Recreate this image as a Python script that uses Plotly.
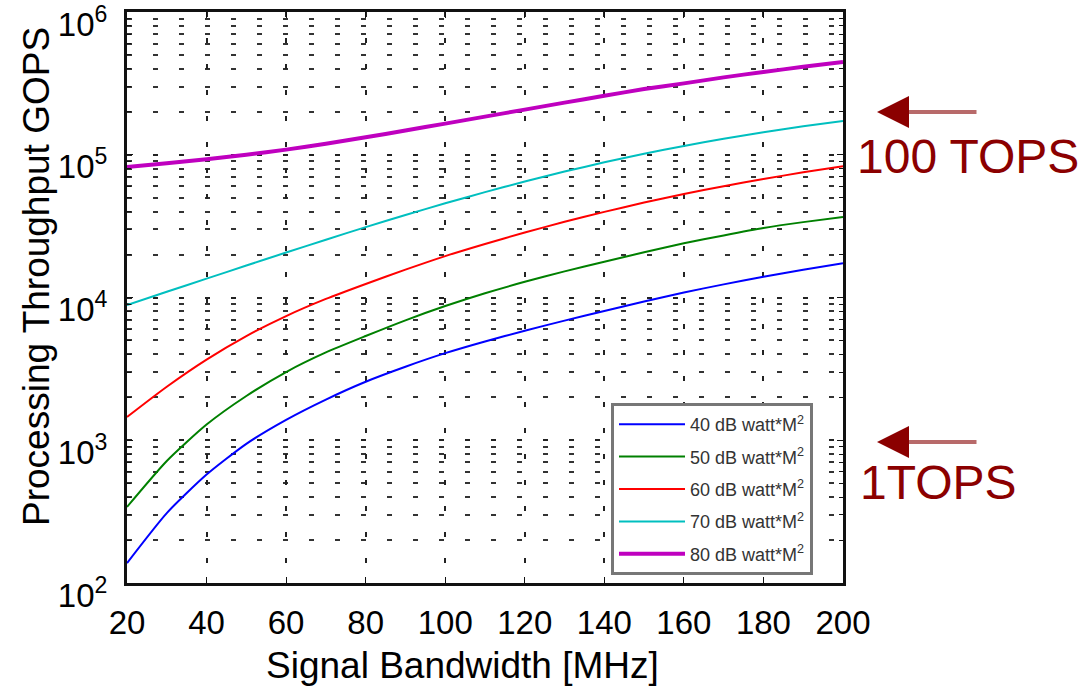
import plotly.graph_objects as go

bandwidth = [20, 30, 40, 50, 60, 70, 80, 90, 100, 110, 120, 130, 140, 150, 160, 170, 180, 190, 200]
gops_40db = [138, 309, 575, 944, 1390, 1928, 2570, 3273, 4074, 4920, 5848, 6887, 8035, 9376,
             10839, 12359, 13964, 15631, 17378]
gops_50db = [341, 716, 1288, 2042, 3006, 4121, 5370, 6918, 8710, 10715, 12882, 15241, 17783, 20749,
             23988, 27227, 30690, 33729, 36644]
gops_60db = [1455, 2371, 3673, 5370, 7413, 9772, 12445, 15668, 19498, 23714, 28510, 33884, 39811, 46238,
             53088, 60256, 67608, 75336, 83176]
gops_70db = [8851, 10965, 13552, 16749, 20654, 25410, 31117, 37844, 45709, 54702, 64863, 76208, 88505,
             101625, 115345, 129420, 143880, 158125, 172187]
gops_80db = [82035, 87096, 92897, 100000, 108643, 119399, 132434, 147911, 165196, 184927, 207014, 231739,
             258821, 288403, 316228, 348337, 380189, 413048, 446684]

series_names = ["40 dB watt*M<sup>2</sup>", "50 dB watt*M<sup>2</sup>", "60 dB watt*M<sup>2</sup>",
                "70 dB watt*M<sup>2</sup>", "80 dB watt*M<sup>2</sup>"]
series_values = [gops_40db, gops_50db, gops_60db, gops_70db, gops_80db]
series_colors = ["#0000ff", "#008000", "#ff0000", "#00bfbf", "#bf00bf"]
series_widths = [2, 2, 2, 2, 4]

y_tick_vals = [1e2, 1e3, 1e4, 1e5, 1e6]
y_tick_text = ["10<sup>2</sup>", "10<sup>3</sup>", "10<sup>4</sup>", "10<sup>5</sup>", "10<sup>6</sup>"]
y_minor_vals = [m * 10 ** e for e in range(2, 6) for m in range(2, 10)]

FONT = "Liberation Sans, Arial, sans-serif"
DARKRED = "#8B0000"

fig = go.Figure()
for i, (name, vals, col, w) in enumerate(zip(series_names, series_values, series_colors, series_widths)):
    fig.add_trace(go.Scatter(x=bandwidth, y=vals, mode="lines", name=name,
                             legendgroup=f"g{i}",
                             line=dict(color=col, width=w, shape="spline", smoothing=0.6)))

grid_dash = "5px,21px"
fig.update_xaxes(range=[20, 200], dtick=20, tick0=20,
                 showline=True, linecolor="#111", linewidth=3, mirror="ticks",
                 ticks="inside", ticklen=6, tickcolor="#111",
                 showgrid=True, gridcolor="#222", gridwidth=1.5, griddash=grid_dash,
                 zeroline=False, ticklabelstandoff=8, automargin=False,
                 tickfont=dict(family=FONT, size=33, color="#000"))
fig.update_yaxes(type="log", range=[2, 6], tickmode="array", tickvals=y_tick_vals, ticktext=y_tick_text,
                 showline=True, linecolor="#111", linewidth=3, mirror="ticks",
                 ticks="inside", ticklen=6, tickcolor="#111",
                 showgrid=True, gridcolor="#222", gridwidth=1.5, griddash=grid_dash,
                 minor=dict(tickmode="array", tickvals=y_minor_vals, showgrid=True, gridcolor="#333",
                            gridwidth=1.5, griddash=grid_dash, ticks="inside", ticklen=4, tickcolor="#111"),
                 zeroline=False, ticklabelstandoff=10, ticklabelshift=12, automargin=False,
                 ticklabeloverflow="allow",
                 tickfont=dict(family=FONT, size=33, color="#000"))

annotations = [
    dict(text="Signal Bandwidth [MHz]", xref="paper", yref="paper", x=(462 - 127) / 716, y=(583 - 665) / 571,
         showarrow=False, font=dict(family=FONT, size=37, color="#000"), xanchor="center", yanchor="middle"),
    dict(text="Processing Throughput GOPS", xref="paper", yref="paper", x=(36 - 127) / 716, y=(583 - 277) / 571,
         showarrow=False, textangle=-90, font=dict(family=FONT, size=37, color="#000"),
         xanchor="center", yanchor="middle"),
    dict(text="100 TOPS", xref="paper", yref="paper", x=(968 - 127) / 716, y=(583 - 156) / 571,
         showarrow=False, font=dict(family=FONT, size=48, color=DARKRED), xanchor="center", yanchor="middle"),
    dict(text="1TOPS", xref="paper", yref="paper", x=(938 - 127) / 716, y=(583 - 482) / 571,
         showarrow=False, font=dict(family=FONT, size=48, color=DARKRED), xanchor="center", yanchor="middle"),
]
for ypx in (112, 442):
    annotations.append(dict(text="", xref="paper", yref="paper", x=(895 - 127) / 716, y=(583 - ypx) / 571,
                            ax=83, ay=0, showarrow=True, arrowhead=0, arrowwidth=4, arrowcolor="#b86a6a"))
    annotations.append(dict(text="", xref="paper", yref="paper", x=(877 - 127) / 716, y=(583 - ypx) / 571,
                            ax=24, ay=0, showarrow=True, arrowhead=2, arrowsize=1.6, arrowwidth=4,
                            arrowcolor=DARKRED))

fig.update_layout(
    width=1092, height=689,
    margin=dict(l=127, r=249, t=12, b=106, autoexpand=False),
    paper_bgcolor="white", plot_bgcolor="white",
    showlegend=True,
    legend=dict(x=(611 - 127) / 716, y=(583 - 403) / 571, xanchor="left", yanchor="top",
                bgcolor="white", bordercolor="#777", borderwidth=3,
                font=dict(family=FONT, size=18, color="#333"),
                tracegroupgap=6, itemwidth=66),
    annotations=annotations,
)

fig.write_html("out.html", config={"displayModeBar": False},
               post_script="document.body.style.margin='0';document.body.style.overflow='hidden';")
